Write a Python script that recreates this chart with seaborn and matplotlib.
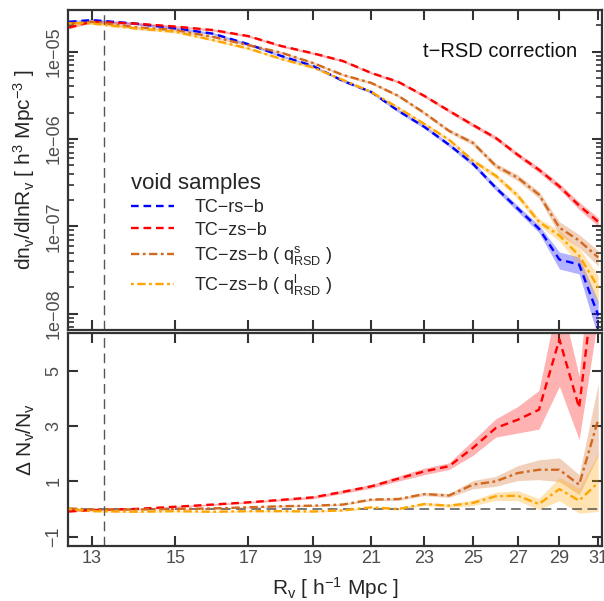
import numpy as np
import pandas as pd
import matplotlib
matplotlib.use("Agg")
import matplotlib.pyplot as plt
import seaborn as sns
from matplotlib.lines import Line2D
from matplotlib.ticker import FixedLocator, FixedFormatter, LogLocator, NullLocator, NullFormatter

# ---------------- data ----------------
R = [12.5, 13, 14, 15, 16, 17, 18, 19, 20, 21, 22, 23, 24, 25, 26, 27, 28, 29, 30, 31]

n_rs = [2.20e-5, 2.30e-5, 2.10e-5, 1.85e-5, 1.61e-5, 1.22e-5, 8.93e-6, 6.87e-6, 4.63e-6, 3.46e-6,
        2.10e-6, 1.38e-6, 8.59e-7, 5.21e-7, 2.77e-7, 1.60e-7, 9.43e-8, 4.17e-8, 3.66e-8, 9.56e-9]
n_zs = [1.89e-5, 2.20e-5, 2.10e-5, 1.94e-5, 1.77e-5, 1.51e-5, 1.16e-5, 9.59e-6, 7.83e-6, 5.71e-6,
        4.51e-6, 3.12e-6, 2.10e-6, 1.45e-6, 1.03e-6, 6.60e-7, 4.45e-7, 2.87e-7, 1.73e-7, 1.13e-7]
n_qs = [2.11e-5, 2.20e-5, 1.91e-5, 1.77e-5, 1.48e-5, 1.19e-5, 9.74e-6, 7.43e-6, 5.42e-6, 4.39e-6,
        3.12e-6, 1.99e-6, 1.24e-6, 9.06e-7, 4.94e-7, 3.61e-7, 2.31e-7, 9.68e-8, 6.88e-8, 4.40e-8]
n_ql = [2.11e-5, 2.11e-5, 1.85e-5, 1.69e-5, 1.36e-5, 1.09e-5, 8.25e-6, 6.60e-6, 4.75e-6, 3.46e-6,
        2.27e-6, 1.49e-6, 9.80e-7, 5.64e-7, 3.80e-7, 2.25e-7, 1.13e-7, 7.84e-8, 4.63e-8, 2.00e-8]

# relative errors on the size function
e_rs = [0.03, 0.03, 0.03, 0.03, 0.03, 0.03, 0.03, 0.03, 0.03, 0.035, 0.04, 0.045, 0.05, 0.06,
        0.07, 0.08, 0.10, 0.22, 0.22, 0.45]
e_zs = [0.03, 0.03, 0.03, 0.03, 0.03, 0.03, 0.03, 0.03, 0.03, 0.03, 0.035, 0.04, 0.045, 0.05,
        0.055, 0.06, 0.07, 0.08, 0.10, 0.11]
e_qs = [0.03, 0.03, 0.03, 0.03, 0.03, 0.03, 0.03, 0.03, 0.03, 0.035, 0.04, 0.045, 0.05, 0.06,
        0.07, 0.08, 0.09, 0.17, 0.17, 0.20]
e_ql = [0.03, 0.03, 0.03, 0.03, 0.03, 0.03, 0.03, 0.03, 0.03, 0.035, 0.04, 0.045, 0.05, 0.06,
        0.07, 0.08, 0.09, 0.14, 0.22, 0.37]

# relative differences with respect to TC-rs-b
d_zs = [-0.09, -0.04, 0.0, 0.08, 0.16, 0.24, 0.33, 0.42, 0.62, 0.82, 1.10, 1.36, 1.55, 2.21,
        2.93, 3.23, 3.59, 6.14, 3.66, 9.5]
d_qs = [0.02, -0.02, -0.02, 0.0, 0.02, 0.06, 0.10, 0.12, 0.16, 0.34, 0.36, 0.54, 0.49, 0.88,
        1.00, 1.30, 1.42, 1.42, 0.88, 3.24]
d_ql = [0.0, -0.08, -0.10, -0.08, -0.10, -0.08, -0.08, -0.09, -0.05, 0.06, 0.0, 0.18, 0.12, 0.22,
        0.46, 0.48, 0.18, 0.72, 0.30, 0.96]
de_zs = [0.02, 0.02, 0.02, 0.03, 0.03, 0.03, 0.04, 0.05, 0.06, 0.07, 0.09, 0.12, 0.12, 0.27,
         0.33, 0.48, 0.70, 1.70, 1.15, 2.5]
de_qs = [0.02, 0.02, 0.02, 0.02, 0.02, 0.02, 0.03, 0.03, 0.03, 0.04, 0.05, 0.06, 0.07, 0.15,
         0.18, 0.27, 0.36, 0.43, 0.36, 1.30]
de_ql = [0.02, 0.02, 0.02, 0.02, 0.02, 0.02, 0.02, 0.02, 0.03, 0.03, 0.04, 0.05, 0.06, 0.10,
         0.15, 0.18, 0.20, 0.42, 0.45, 1.05]

labels = ["TC\u2212rs\u2212b", "TC\u2212zs\u2212b",
          "TC\u2212zs\u2212b ( $\\mathrm{q^{s}_{RSD}}$ )",
          "TC\u2212zs\u2212b ( $\\mathrm{q^{l}_{RSD}}$ )"]
x_ticks = [13, 15, 17, 19, 21, 23, 25, 27, 29, 31]
top_yticks = [1e-8, 1e-7, 1e-6, 1e-5]
top_yticklabels = ["1e\u221208", "1e\u221207", "1e\u221206", "1e\u221205"]
bot_yticks = [-1, 1, 3, 5]
bot_yticklabels = ["\u22121", "1", "3", "5"]
R_cut = 13.27

# ---------------- style ----------------
sns.set_theme(style="ticks")
plt.rcParams["font.family"] = ["Liberation Sans", "DejaVu Sans"]
plt.rcParams["mathtext.fontset"] = "custom"
plt.rcParams["mathtext.rm"] = "Liberation Sans"
plt.rcParams["mathtext.it"] = "Liberation Sans:italic"
plt.rcParams["mathtext.bf"] = "Liberation Sans:bold"
plt.rcParams["lines.scale_dashes"] = False

colors = ["#0000FF", "#FF0000", "#D2691E", "#FFA500"]
styles = [(0, (5.5, 3.5)), (0, (5.5, 3.5)), (0, (6, 2.5, 2, 2.5)), (0, (2, 2.5, 6, 2.5))]

fig = plt.figure(figsize=(6.04, 6.01), dpi=100)
W, H = 604, 601
L, Rr = 68, 602
ax1 = fig.add_axes([L / W, 1 - 329.5 / H, (Rr - L) / W, (329.5 - 10) / H])
ax2 = fig.add_axes([L / W, 1 - 546 / H, (Rr - L) / W, (546 - 332.7) / H])

tops = [n_rs, n_zs, n_qs, n_ql]
terrs = [e_rs, e_zs, e_qs, e_ql]
for i, (vals, err) in enumerate(zip(tops, terrs)):
    v = np.array(vals)
    e = np.array(err)
    ax1.fill_between(R, v * (1 - e), v * (1 + e), color=colors[i], alpha=0.3, lw=0, zorder=1)
for i, vals in enumerate(tops):
    sns.lineplot(x=R, y=vals, ax=ax1, color=colors[i], linestyle=styles[i], lw=1.7, zorder=3)

bots = [None, d_zs, d_qs, d_ql]
berrs = [None, de_zs, de_qs, de_ql]
for i in [1, 2, 3]:
    v = np.array(bots[i])
    e = np.array(berrs[i])
    ax2.fill_between(R, v - e, v + e, color=colors[i], alpha=0.3, lw=0, zorder=1)
ax2.axhline(0, color="#555555", lw=1.1, ls=(0, (7, 4)), zorder=2)
for i in [1, 2, 3]:
    sns.lineplot(x=R, y=bots[i], ax=ax2, color=colors[i], linestyle=styles[i], lw=1.7, zorder=3)

for ax in (ax1, ax2):
    ax.axvline(R_cut, color="#555555", lw=1.0, ls=(0, (7, 4)), zorder=2)
    ax.set_xscale("log")
    ax.set_xlim(12.48, 31.2)
    ax.xaxis.set_major_locator(FixedLocator(x_ticks))
    ax.xaxis.set_major_formatter(FixedFormatter([str(t) for t in x_ticks]))
    ax.xaxis.set_minor_locator(NullLocator())
    ax.xaxis.set_minor_formatter(NullFormatter())
    for s in ax.spines.values():
        s.set_linewidth(1.6)
        s.set_color("#333333")
        s.set_visible(True)
    ax.tick_params(which="major", direction="in", length=7, width=1.5, color="#333333",
                   top=True, right=True, labelsize=13, labelcolor="#4D4D4D")
    ax.tick_params(which="minor", direction="in", length=4, width=1.2, color="#333333",
                   top=True, right=True)
    ax.tick_params(axis="y", labelrotation=90, pad=4)
    ax.tick_params(axis="x", pad=3)
    ax.set_xlabel("")
    ax.set_ylabel("")

ax1.set_yscale("log")
ax1.set_ylim(6.6e-9, 3.0e-5)
ax1.yaxis.set_major_locator(FixedLocator(top_yticks))
ax1.yaxis.set_major_formatter(FixedFormatter(top_yticklabels))
ax1.yaxis.set_minor_locator(LogLocator(base=10, subs=np.arange(2, 10)))
ax1.yaxis.set_minor_formatter(NullFormatter())
ax1.tick_params(labelbottom=False)
for lab in ax1.get_yticklabels():
    lab.set_va("center")

ax2.set_ylim(-1.34, 6.38)
ax2.yaxis.set_major_locator(FixedLocator(bot_yticks))
ax2.yaxis.set_major_formatter(FixedFormatter(bot_yticklabels))
ax2.yaxis.set_minor_locator(NullLocator())
for lab in ax2.get_yticklabels():
    lab.set_va("center")

ax1.set_ylabel("$\\mathrm{dn_v/dlnR_v}$ [ h$^3$ Mpc$^{-3}$ ]", fontsize=15, labelpad=6)
ax2.set_ylabel("$\\Delta$ $\\mathrm{N_v/N_v}$", fontsize=15, labelpad=6)
ax2.set_xlabel("$\\mathrm{R_v}$ [ h$^{-1}$ Mpc ]", fontsize=15, labelpad=6)
fig.align_ylabels([ax1, ax2])

ax1.text(0.953, 0.869, "t\u2212RSD correction", transform=ax1.transAxes,
         ha="right", va="center", fontsize=14.5, color="#111111")

handles = [Line2D([0], [0], color=colors[i], linestyle=styles[i], lw=1.7) for i in range(4)]
leg = ax1.legend(handles, labels, title="void samples", loc="upper left",
                 bbox_to_anchor=(0.118, 0.49), frameon=False, fontsize=13,
                 title_fontsize=16, handlelength=2.4, handletextpad=1.1,
                 labelspacing=0.3, borderpad=0, borderaxespad=0, alignment="left")

fig.savefig("out.png", dpi=100)
